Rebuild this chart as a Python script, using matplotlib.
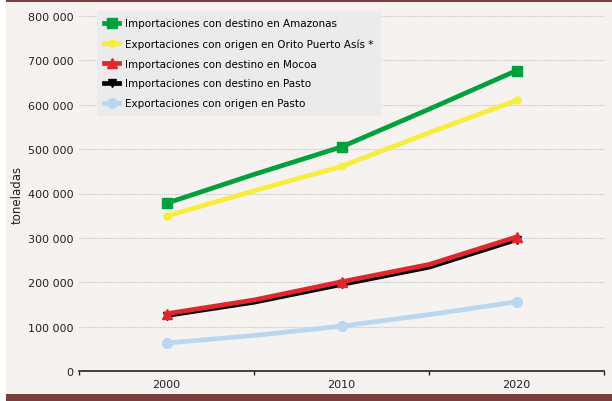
import matplotlib.pyplot as plt
from matplotlib.patches import Rectangle
from matplotlib.ticker import FuncFormatter

years = [2000, 2005, 2010, 2015, 2020]

amazonas_imp = [378000, 443000, 505000, 590000, 677000]
orito_exp = [349000, 406000, 461000, 537000, 610000]
mocoa_imp = [129000, 160000, 201000, 240000, 302000]
pasto_imp = [125000, 155000, 195000, 234000, 296000]
pasto_exp = [63000, 80000, 101000, 127000, 156000]

labels = ["Importaciones con destino en Amazonas",
          "Exportaciones con origen en Orito Puerto Asís *",
          "Importaciones con destino en Mocoa",
          "Importaciones con destino en Pasto",
          "Exportaciones con origen en Pasto"]

bg = "#f5f2ef"
band = "#7a3e3e"

fig = plt.figure(figsize=(6.12, 4.02), dpi=100)
fig.patch.set_facecolor("white")
fig.patches.append(Rectangle((6 / 612, 0), 1, 1, transform=fig.transFigure,
                             facecolor=bg, edgecolor="none", zorder=-2))
fig.patches.append(Rectangle((6 / 612, 1 - 3 / 402), 1, 3 / 402, transform=fig.transFigure,
                             facecolor=band, edgecolor="none", zorder=-1))
fig.patches.append(Rectangle((6 / 612, 0), 1, 7 / 402, transform=fig.transFigure,
                             facecolor=band, edgecolor="none", zorder=-1))

ax = fig.add_axes([79 / 612, 30 / 402, 525 / 612, 355 / 402])
ax.set_facecolor("none")

lw = 3.4
mk = [0, 2, 4]
ax.plot(years, amazonas_imp, color="#00a03c", lw=lw, marker="s", ms=7, markevery=mk, label=labels[0], zorder=5)
ax.plot(years, orito_exp, color="#f6ee3a", lw=lw, marker="o", ms=5, markevery=mk, label=labels[1], zorder=4)
ax.plot(years, pasto_imp, color="black", lw=lw, marker="v", ms=6, markevery=mk, label=labels[3], zorder=3)
ax.plot(years, mocoa_imp, color="#e0262f", lw=lw, marker="^", ms=7, markevery=mk, label=labels[2], zorder=4)
ax.plot(years, pasto_exp, color="#bad7f2", lw=lw, marker="o", ms=7, markevery=mk, label=labels[4], zorder=3)

ax.set_xlim(1995, 2025)
ax.set_ylim(0, 800000)
ax.set_yticks(range(0, 800001, 100000))
ax.yaxis.set_major_formatter(FuncFormatter(lambda v, p: f"{int(v):,}".replace(",", " ")))
ax.tick_params(axis="y", length=0, pad=4, labelsize=8, colors="#222222")

# unlabeled ticks between the years, labels on the years
ax.set_xticks([1995, 2005, 2015, 2025])
ax.set_xticklabels([])
ax.set_xticks([2000, 2010, 2020], minor=True)
ax.set_xticklabels(["2000", "2010", "2020"], minor=True)
ax.tick_params(axis="x", which="major", length=3, width=1, direction="out", color="#222222")
ax.tick_params(axis="x", which="minor", length=0, pad=6, labelsize=8, colors="#222222")

for y in range(100000, 800001, 100000):
    ax.axhline(y, color="#c4c4c4", lw=0.8, ls=(0, (1, 1)), zorder=0, clip_on=False)

for s in ["top", "right", "left"]:
    ax.spines[s].set_visible(False)
ax.spines["bottom"].set_color("#222222")
ax.spines["bottom"].set_linewidth(1.2)

ax.set_ylabel("toneladas", fontsize=8.5, labelpad=3, color="#222222")

handles, lbls = ax.get_legend_handles_labels()
order = [lbls.index(l) for l in labels]
leg = ax.legend([handles[i] for i in order], [lbls[i] for i in order],
                loc="upper left", bbox_to_anchor=(97 / 612, 1 - 12 / 402),
                bbox_transform=fig.transFigure, borderaxespad=0, fontsize=7.5, frameon=True,
                fancybox=False, facecolor="#ebebeb", edgecolor="none", framealpha=1,
                handlelength=1.4, labelspacing=0.95, borderpad=0.7, handletextpad=0.6)
leg.set_zorder(10)

fig.savefig("out.png", dpi=100, facecolor=fig.get_facecolor())
